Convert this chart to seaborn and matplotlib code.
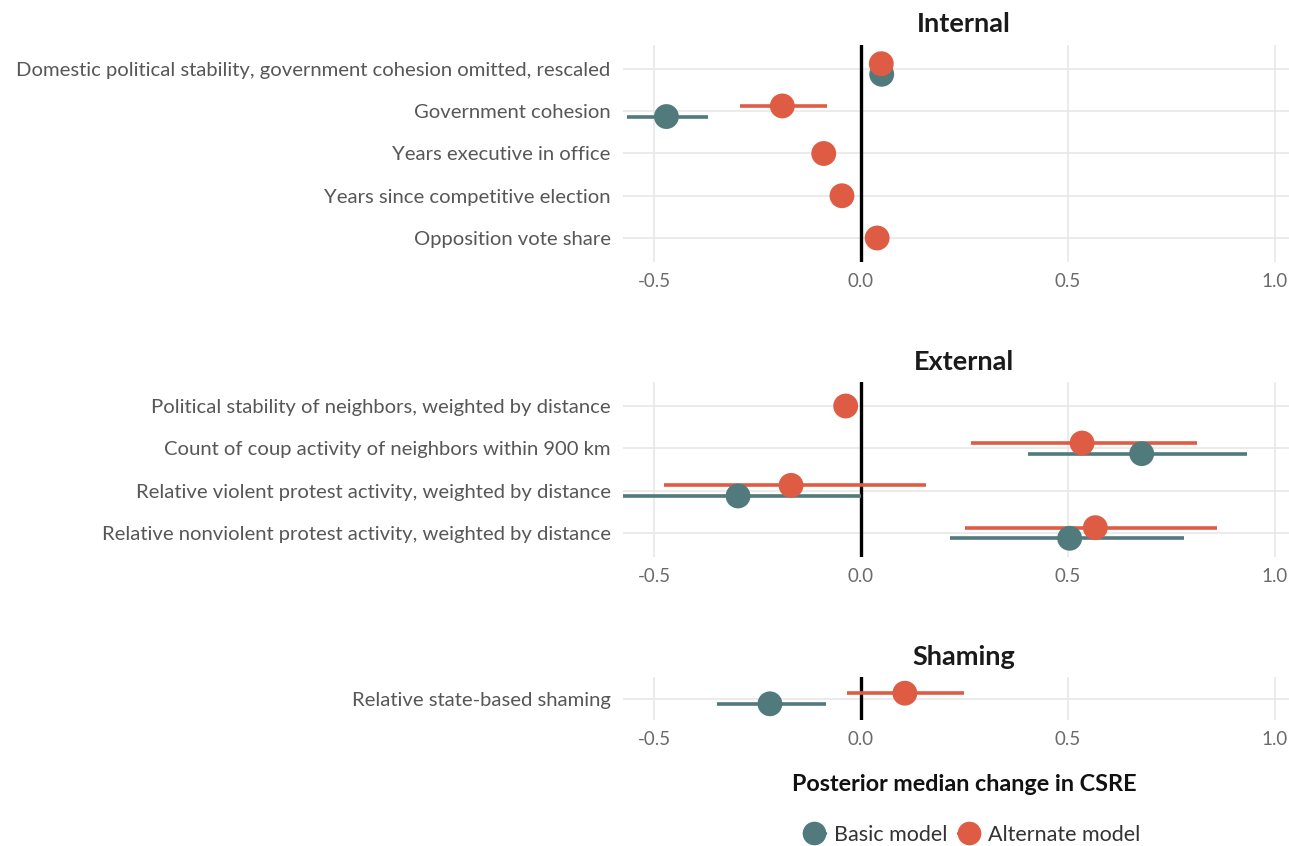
import numpy as np
import pandas as pd
import matplotlib
matplotlib.use("Agg")
import matplotlib.pyplot as plt
from matplotlib.lines import Line2D
import seaborn as sns

sns.set_theme(style="white")
plt.rcParams['font.family'] = ['Lato', 'DejaVu Sans']

nan = np.nan
BASIC = "#517a7c"
ALT = "#df5c44"

# ---- data ----
internal_vars = ["Domestic political stability, government cohesion omitted, rescaled",
                 "Government cohesion", "Years executive in office",
                 "Years since competitive election", "Opposition vote share"]
internal_basic_est = [0.050, -0.470, nan, nan, nan]
internal_basic_lo = [nan, -0.566, nan, nan, nan]
internal_basic_hi = [nan, -0.370, nan, nan, nan]
internal_alt_est = [0.049, -0.190, -0.090, -0.046, 0.039]
internal_alt_lo = [nan, -0.293, nan, nan, nan]
internal_alt_hi = [nan, -0.082, nan, nan, nan]

external_vars = ["Political stability of neighbors, weighted by distance",
                 "Count of coup activity of neighbors within 900 km",
                 "Relative violent protest activity, weighted by distance",
                 "Relative nonviolent protest activity, weighted by distance"]
external_basic_est = [nan, 0.678, -0.297, 0.504]
external_basic_lo = [nan, 0.403, -0.600, 0.214]
external_basic_hi = [nan, 0.932, 0.001, 0.780]
external_alt_est = [-0.037, 0.534, -0.169, 0.566]
external_alt_lo = [nan, 0.265, -0.476, 0.252]
external_alt_hi = [nan, 0.812, 0.156, 0.860]

shaming_vars = ["Relative state-based shaming"]
shaming_basic_est = [-0.220]
shaming_basic_lo = [-0.349]
shaming_basic_hi = [-0.085]
shaming_alt_est = [0.106]
shaming_alt_lo = [-0.034]
shaming_alt_hi = [0.249]

panels = [
    ("Internal", internal_vars, internal_basic_est, internal_basic_lo, internal_basic_hi,
     internal_alt_est, internal_alt_lo, internal_alt_hi),
    ("External", external_vars, external_basic_est, external_basic_lo, external_basic_hi,
     external_alt_est, external_alt_lo, external_alt_hi),
    ("Shaming", shaming_vars, shaming_basic_est, shaming_basic_lo, shaming_basic_hi,
     shaming_alt_est, shaming_alt_lo, shaming_alt_hi),
]

W, H = 1289, 846
fig = plt.figure(figsize=(W / 100, H / 100), dpi=100)

# panel pixel boxes (top, bottom)
boxes = [(45, 262), (382, 557), (677, 720)]
left_px, right_px = 623, 1305
x0_px, unit_px = 861, 414.0
xlim = ((left_px - x0_px) / unit_px, (right_px - x0_px) / unit_px)
row_px = 42.25
dodge = 5.3 / row_px
TXT = "#575757"

for (title, vars_, b_est, b_lo, b_hi, a_est, a_lo, a_hi), (top, bot) in zip(panels, boxes):
    ax = fig.add_axes([left_px / W, 1 - bot / H, (right_px - left_px) / W, (bot - top) / H])
    n = len(vars_)
    rows = []
    for i, v in enumerate(vars_):
        both = not np.isnan(b_est[i]) and not np.isnan(a_est[i])
        off = dodge if both else 0.0
        if not np.isnan(b_est[i]):
            rows.append(dict(var=v, idx=i, y=i + off, model="Basic model",
                             est=b_est[i], lo=b_lo[i], hi=b_hi[i]))
        if not np.isnan(a_est[i]):
            rows.append(dict(var=v, idx=i, y=i - off, model="Alternate model",
                             est=a_est[i], lo=a_lo[i], hi=a_hi[i]))
    df = pd.DataFrame(rows)

    # grid
    for t in [-0.5, 0.0, 0.5, 1.0]:
        ax.axvline(t, color="#e6e6e6", lw=1.1, zorder=0)
    for i in range(n):
        ax.axhline(i, color="#e6e6e6", lw=1.1, zorder=0)
    ax.axvline(0, color="black", lw=2.4, zorder=1)

    pal = {"Basic model": BASIC, "Alternate model": ALT}
    for _, r in df.iterrows():
        if not np.isnan(r["lo"]):
            ax.hlines(r["y"], r["lo"], r["hi"], color=pal[r["model"]], lw=2.6, zorder=2)
    sns.scatterplot(data=df, x="est", y="y", hue="model", palette=pal, s=320,
                    edgecolor="none", legend=False, ax=ax, zorder=3)

    if n > 1:
        ax.set_ylim(n - 1 + 24 / row_px, -24 / row_px)
    else:
        ax.set_ylim(21.5 / row_px, -21.5 / row_px)
    ax.set_xlim(*xlim)
    ax.set_yticks(range(n))
    ax.set_yticklabels(vars_, fontsize=14.6, color=TXT)
    ax.set_xticks([-0.5, 0.0, 0.5, 1.0])
    ax.set_xticklabels(["-0.5", "0.0", "0.5", "1.0"], fontsize=13.5, color="#6a6a6a")
    ax.tick_params(axis="both", length=0, pad=8)
    ax.tick_params(axis="y", pad=9)
    ax.set_xlabel("")
    ax.set_ylabel("")
    for s in ax.spines.values():
        s.set_visible(False)
    ax.set_title(title, fontsize=19.5, fontweight="bold", color="#1a1a1a", pad=9)

fig.text(964 / W, 1 - 784 / H, "Posterior median change in CSRE", ha="center", va="center",
         fontsize=16.8, fontweight="bold", color="#111111")

handles = [Line2D([0], [0], color=BASIC, marker="o", markersize=16, lw=2.5),
           Line2D([0], [0], color=ALT, marker="o", markersize=16, lw=2.5)]
fig.legend(handles, ["Basic model", "Alternate model"], loc="center",
           bbox_to_anchor=(972 / W, 1 - 835 / H), ncol=2, frameon=False,
           handlelength=1.0, handletextpad=0.4, columnspacing=0.5,
           prop={"size": 15.5}, labelcolor="#333333")

fig.savefig("out.png", dpi=100)
